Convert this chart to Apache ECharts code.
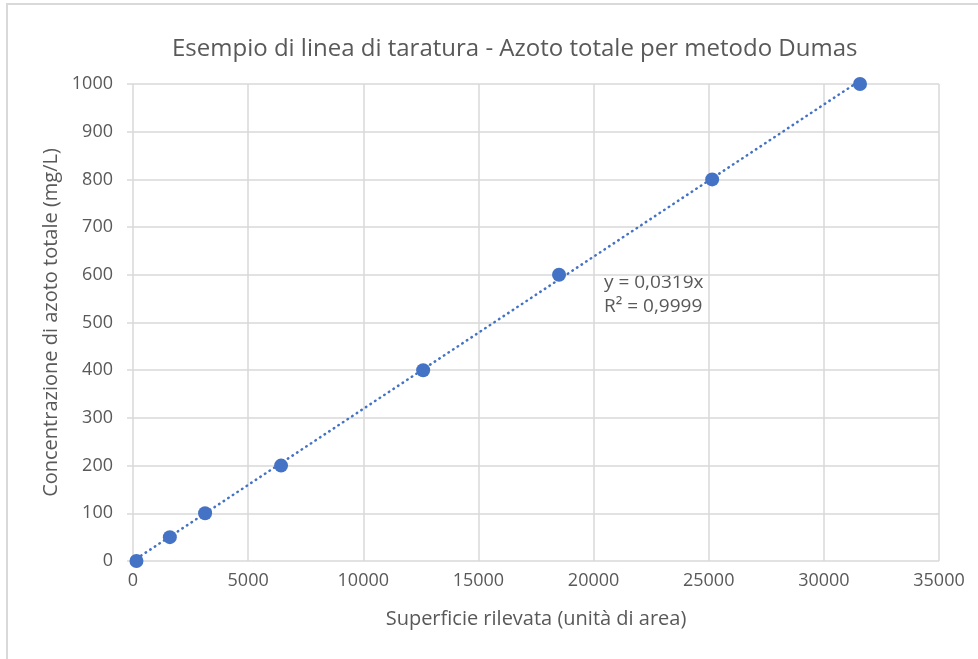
<!DOCTYPE html>
<html>
<head>
<meta charset="utf-8">
<title>Linea di taratura</title>
<script src="https://cdn.jsdelivr.net/npm/echarts@6/dist/echarts.min.js"></script>
<style>
  html, body { margin: 0; padding: 0; background: #fff; }
  #chart { width: 978px; height: 659px; }
</style>
</head>
<body>
<div id="chart"></div>
<script>
// punti di taratura
var superficie = [150, 1600, 3130, 6430, 12600, 18500, 25150, 31570];
var concentrazione = [0, 50, 100, 200, 400, 600, 800, 1000];
var pendenza = 0.0319;
var etichettaEq = 'y = 0,0319x';
var etichettaR2 = 'R² = 0,9999';

var fontFam = '"Open Sans", sans-serif';
var grigio = '#595959';
var blu = '#4472C4';

function renderPage() {
    var punti = superficie.map(function (x, i) { return [x, concentrazione[i]]; });
    var xMin = Math.min.apply(null, superficie);
    var xMax = Math.max.apply(null, superficie);
    var tendenza = [[xMin, pendenza * xMin], [xMax, pendenza * xMax]];

    var option = {
        animation: false,
        title: {
            text: 'Esempio di linea di taratura - Azoto totale per metodo Dumas',
            left: 167,
            top: 32,
            textStyle: { fontFamily: fontFam, fontSize: 24, fontWeight: 'normal', color: grigio }
        },
        grid: { left: 133, top: 84, right: 39, bottom: 98 },
        xAxis: {
            type: 'value',
            min: 0, max: 35000, interval: 5000,
            name: 'Superficie rilevata (unità di area)',
            nameLocation: 'middle',
            nameGap: 48,
            nameTextStyle: { fontFamily: fontFam, fontSize: 20, color: grigio },
            axisLine: { show: false },
            axisTick: { show: false },
            axisLabel: {
                fontFamily: fontFam, fontSize: 18, color: grigio, margin: 11,
                formatter: function (v) { return String(v); }
            },
            splitLine: { show: true, lineStyle: { color: '#D9D9D9', width: 1.5 } }
        },
        yAxis: {
            type: 'value',
            min: 0, max: 1000, interval: 100,
            name: 'Concentrazione di azoto totale (mg/L)',
            nameLocation: 'middle',
            nameGap: 66,
            nameTextStyle: { fontFamily: fontFam, fontSize: 20, color: grigio },
            axisLine: { show: false },
            axisTick: { show: true, inside: false, length: 6, lineStyle: { color: '#D9D9D9', width: 1.5 } },
            axisLabel: {
                fontFamily: fontFam, fontSize: 18, color: grigio, margin: 20,
                formatter: function (v) { return String(v); }
            },
            splitLine: { show: true, lineStyle: { color: '#D9D9D9', width: 1.5 } }
        },
        graphic: [
            {
                type: 'rect', silent: true,
                shape: { x: 7, y: 4, width: 990, height: 700 },
                style: { fill: 'none', stroke: '#D9D9D9', lineWidth: 2 }
            },
            {
                type: 'text', left: 604, top: 273,
                style: { text: etichettaEq, font: '19px ' + fontFam, fill: grigio }
            },
            {
                type: 'text', left: 604, top: 297,
                style: { text: etichettaR2, font: '19px ' + fontFam, fill: grigio }
            }
        ],
        series: [
            {
                name: 'tendenza',
                type: 'line',
                data: tendenza,
                symbol: 'none',
                clip: true,
                lineStyle: { color: blu, width: 2.5, type: [0.5, 5], cap: 'round' },
                z: 2
            },
            {
                name: 'taratura',
                type: 'scatter',
                data: punti,
                symbol: 'circle',
                symbolSize: 14,
                itemStyle: { color: blu, opacity: 1 },
                z: 3
            }
        ]
    };
    var chart = document.getElementById('chart');
    var chartContainer = echarts.init(chart);
    chartContainer.setOption(option);
    window.onresize = function () {
        chartContainer.resize();
    };
}

renderPage();
</script>
</body>
</html>
